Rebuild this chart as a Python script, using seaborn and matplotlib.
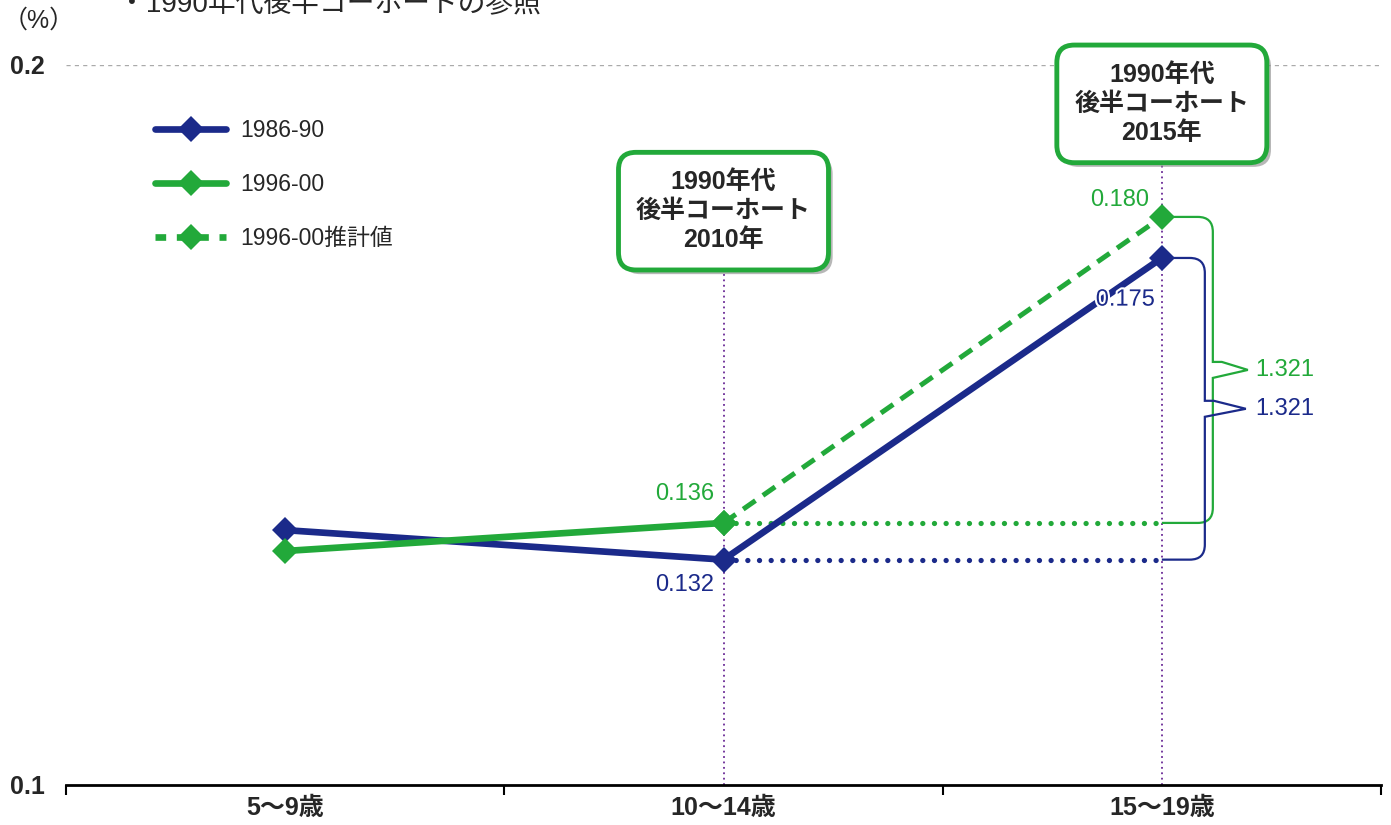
import numpy as np
import pandas as pd
import seaborn as sns
import matplotlib.pyplot as plt
import matplotlib.patheffects as pe
from matplotlib.path import Path
from matplotlib.patches import PathPatch
from matplotlib.lines import Line2D
from matplotlib.transforms import IdentityTransform

# ---------------- データ ----------------
ages = ['5〜9歳', '10〜14歳', '15〜19歳']
cohort_8690 = [0.1354, 0.1313, 0.1732]       # 1986-90
cohort_9600 = [0.1325, 0.1364]               # 1996-00 (実績)
cohort_9600_est = [0.1364, 0.1789]           # 1996-00 推計値 (10〜14歳 → 15〜19歳)
labels_8690 = ['0.132', '0.175']
labels_9600 = ['0.136', '0.180']
ratio_labels = ['1.321', '1.321']            # 9600, 8690
box_texts = ['1990年代\n後半コーホート\n2010年', '1990年代\n後半コーホート\n2015年']
box_y = [0.1797, 0.1946]

NAVY = '#1B2A8A'
GREEN = '#22A93A'
PURPLE = '#6A2A96'

# ---------------- スタイル ----------------
sns.set_theme(style='white')
plt.rcParams['font.family'] = ['Liberation Sans', 'Noto Sans CJK JP', 'DejaVu Sans']

fig = plt.figure(figsize=(13.91, 8.25), dpi=100)
ax = fig.add_axes([66 / 1391, 40 / 825, 1315 / 1391, 720 / 825])
ax.set_xlim(-0.5, 2.5)
ax.set_ylim(0.1, 0.2)

# 0.2 の補助線
ax.axhline(0.2, color='#aaaaaa', ls=(0, (3, 3)), lw=1, zorder=1)

# 縦の点線 (2010年, 2015年)
for i, yb in zip([1, 2], box_y):
    ax.plot([i, i], [0.1, yb], color=PURPLE, lw=1.3, ls=(0, (1, 2)), zorder=2)

# 横の点線 (10〜14歳の値を延長)
ax.plot([1, 2], [cohort_9600[1]] * 2, color=GREEN, lw=3.8, ls=(0, (0.01, 2.2)),
        dash_capstyle='round', zorder=3)
ax.plot([1, 2], [cohort_8690[1]] * 2, color=NAVY, lw=3.8, ls=(0, (0.01, 2.2)),
        dash_capstyle='round', zorder=3)

# 系列
sns.lineplot(x=[0, 1, 2], y=cohort_8690, color=NAVY, lw=4.8, marker='D', markersize=13,
             markeredgewidth=0, ax=ax, zorder=5)
sns.lineplot(x=[1, 2], y=cohort_9600_est, color=GREEN, lw=3.6, linestyle=(0, (3, 1.8)),
             marker='D', markersize=13, markeredgewidth=0, ax=ax, zorder=6)
sns.lineplot(x=[0, 1], y=cohort_9600, color=GREEN, lw=4.8, marker='D', markersize=13,
             markeredgewidth=0, ax=ax, zorder=6)

# 値ラベル
FS = 17
ax.annotate(labels_9600[0], (1, cohort_9600[1]), xytext=(-7, 21), textcoords='offset points',
            ha='right', va='center', fontsize=FS, color=GREEN)
ax.annotate(labels_8690[0], (1, cohort_8690[1]), xytext=(-7, -18), textcoords='offset points',
            ha='right', va='center', fontsize=FS, color=NAVY)
ax.annotate(labels_9600[1], (2, cohort_9600_est[1]), xytext=(-9, 12), textcoords='offset points',
            ha='right', va='center', fontsize=FS, color=GREEN)
ax.annotate(labels_8690[1], (2, cohort_8690[2]), xytext=(-5, -30), textcoords='offset points',
            ha='right', va='center', fontsize=FS, color=NAVY, zorder=7,
            path_effects=[pe.withStroke(linewidth=3, foreground='white')])


# 右側の括弧 (ピクセル座標で描く)
def bracket(y_top, y_bot, dx, tip, color):
    x0, yt = ax.transData.transform((2, y_top))
    _, yb = ax.transData.transform((2, y_bot))
    xb = x0 + dx
    r = 15
    h = 8
    ym = (yt + yb) / 2
    verts = [(x0, yt), (xb - r, yt), (xb, yt), (xb, yt - r), (xb, ym + h),
             (xb + 9, ym + h), (xb + tip, ym), (xb, ym - h), (xb, yb + r),
             (xb, yb), (xb - r, yb), (x0, yb)]
    codes = [Path.MOVETO, Path.LINETO, Path.CURVE3, Path.CURVE3, Path.LINETO,
             Path.LINETO, Path.LINETO, Path.LINETO, Path.LINETO,
             Path.CURVE3, Path.CURVE3, Path.LINETO]
    ax.add_patch(PathPatch(Path(verts, codes), fc='none', ec=color, lw=1.6,
                           transform=IdentityTransform(), zorder=4))


bracket(cohort_9600_est[1], cohort_9600[1], 51, 35, GREEN)
bracket(cohort_8690[2], cohort_8690[1], 43, 41, NAVY)

ax.annotate(ratio_labels[0], (2, (cohort_9600_est[1] + cohort_9600[1]) / 2), xytext=(67, 0),
            textcoords='offset points', ha='left', va='center', fontsize=FS, color=GREEN)
ax.annotate(ratio_labels[1], (2, (cohort_8690[2] + cohort_8690[1]) / 2), xytext=(67, 0),
            textcoords='offset points', ha='left', va='center', fontsize=FS, color=NAVY)

# 吹き出しボックス
for i, (txt, yb) in enumerate(zip(box_texts, box_y)):
    t = ax.text(i + 1, yb, txt, ha='center', va='center', fontsize=18, fontweight='bold',
                linespacing=1.28, zorder=10,
                bbox=dict(boxstyle='round,pad=0.7,rounding_size=0.7', fc='white',
                          ec=GREEN, lw=3.5))
    t.get_bbox_patch().set_path_effects([
        pe.SimplePatchShadow(offset=(3, -3), shadow_rgbFace='#888888', alpha=0.6),
        pe.Normal()])

# 凡例
handles = [
    Line2D([], [], color=NAVY, lw=4.8, marker='D', ms=13, mew=0),
    Line2D([], [], color=GREEN, lw=4.8, marker='D', ms=13, mew=0),
    Line2D([], [], color=GREEN, lw=4.8, marker='D', ms=13, mew=0, ls=(0, (1.6, 1.6))),
]
ax.legend(handles, ['1986-90', '1996-00', '1996-00推計値'], loc='upper left',
          bbox_to_anchor=(155 / 1391, 1 - 119 / 825), bbox_transform=fig.transFigure,
          frameon=False, fontsize=16.5, handlelength=3.1, handletextpad=0.6,
          labelspacing=1.35, borderpad=0, borderaxespad=0)

# 軸
sns.despine(ax=ax, left=True, top=True, right=True)
ax.spines['bottom'].set_linewidth(2)
ax.spines['bottom'].set_color('black')
ax.set_xticks([0, 1, 2])
ax.set_xticklabels(ages, fontsize=18, fontweight='bold')
ax.set_xticks([-0.5, 0.5, 1.5, 2.5], minor=True)
ax.tick_params(axis='x', which='major', length=0, pad=8)
ax.tick_params(axis='x', which='minor', length=7, width=1.5, direction='out', color='black',
               bottom=True)
ax.set_yticks([0.1, 0.2])
ax.set_yticklabels(['0.1', '0.2'], fontsize=18, fontweight='bold')
ax.tick_params(axis='y', length=0, pad=15)
ax.set_xlabel('')
ax.set_ylabel('')
ax.grid(False)

fig.text(0.002, 1 - 21 / 825, '（%）', fontsize=18, va='center', ha='left')
fig.text(118 / 1391, 1 - 12 / 825, '・1990年代後半コーホートの参照', fontsize=20,
         va='baseline', ha='left')

fig.savefig('out.png', dpi=100)
